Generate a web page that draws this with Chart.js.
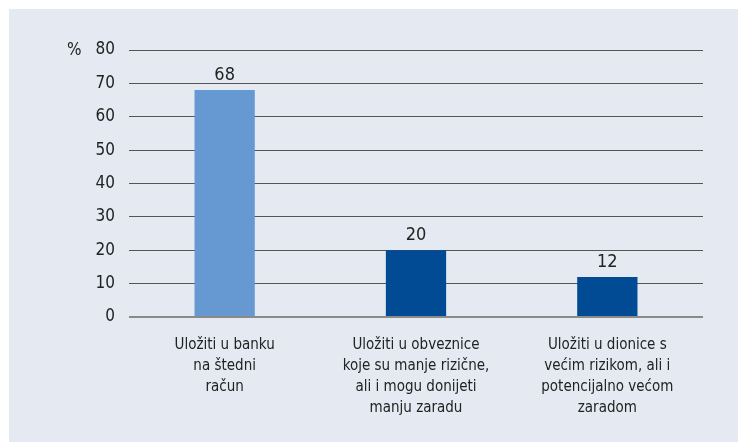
<!DOCTYPE html>
<html>
<head>
<meta charset="utf-8">
<script src="https://cdn.jsdelivr.net/npm/chart.js@4"></script>
<style>
  html, body { margin: 0; padding: 0; background: #fff; }
  #wrap { position: absolute; left: 9px; top: 9px; width: 729px; height: 433px; background: #e4e9f2; }
</style>
</head>
<body>
<div id="wrap"><canvas id="chart" width="729" height="433"></canvas></div>
<script>
const categories = [
  ['Uložiti u banku', 'na štedni', 'račun'],
  ['Uložiti u obveznice', 'koje su manje rizične,', 'ali i mogu donijeti', 'manju zaradu'],
  ['Uložiti u dionice s', 'većim rizikom, ali i', 'potencijalno većom', 'zaradom']
];
const values = [68, 20, 12];
const yTicks = [0, 10, 20, 30, 40, 50, 60, 70, 80];
const barColors = ['#6699d1', '#004b93', '#004b93'];

const fontFamily = '"DejaVu Sans Condensed", "Liberation Sans", Arial, sans-serif';
const textColor = '#222';

// value labels above bars + "%" next to top tick
const labelsPlugin = {
  id: 'labels',
  afterDatasetsDraw(chart) {
    const ctx = chart.ctx;
    const meta = chart.getDatasetMeta(0);
    ctx.save();
    ctx.font = '18px ' + fontFamily;
    ctx.fillStyle = textColor;
    ctx.textAlign = 'center';
    ctx.textBaseline = 'bottom';
    meta.data.forEach((bar, i) => {
      ctx.fillText(values[i], bar.x, bar.y - 6);
    });
    const y = chart.scales.y;
    ctx.font = '17px ' + fontFamily;
    ctx.textAlign = 'left';
    ctx.textBaseline = 'middle';
    ctx.fillText('%', 58, y.getPixelForValue(80) + 1);
    ctx.restore();
  }
};

new Chart(document.getElementById('chart'), {
  type: 'bar',
  data: {
    labels: categories,
    datasets: [{
      data: values,
      backgroundColor: barColors,
      categoryPercentage: 1,
      barPercentage: 0.315
    }]
  },
  options: {
    responsive: false,
    animation: false,
    layout: { padding: { top: 41, right: 35, left: 0, bottom: 0 } },
    plugins: { legend: { display: false }, tooltip: { enabled: false } },
    scales: {
      x: {
        grid: { display: false },
        border: { display: false },
        ticks: {
          color: textColor,
          font: { family: fontFamily, size: 15, lineHeight: 1.4 },
          padding: 10,
          maxRotation: 0,
          autoSkip: false
        },
        afterFit(s) { s.height = 125; }
      },
      y: {
        min: 0,
        max: 80,
        afterBuildTicks(s) { s.ticks = yTicks.map(v => ({ value: v })); },
        grid: {
          drawTicks: false,
          color: ctx => ctx.index === 0 ? '#8a8a8a' : '#555',
          lineWidth: ctx => ctx.index === 0 ? 2 : 1
        },
        border: { display: false },
        ticks: {
          color: textColor,
          font: { family: fontFamily, size: 17 },
          padding: 14
        },
        afterFit(s) { s.width = 120; }
      }
    }
  },
  plugins: [labelsPlugin]
});
</script>
</body>
</html>
